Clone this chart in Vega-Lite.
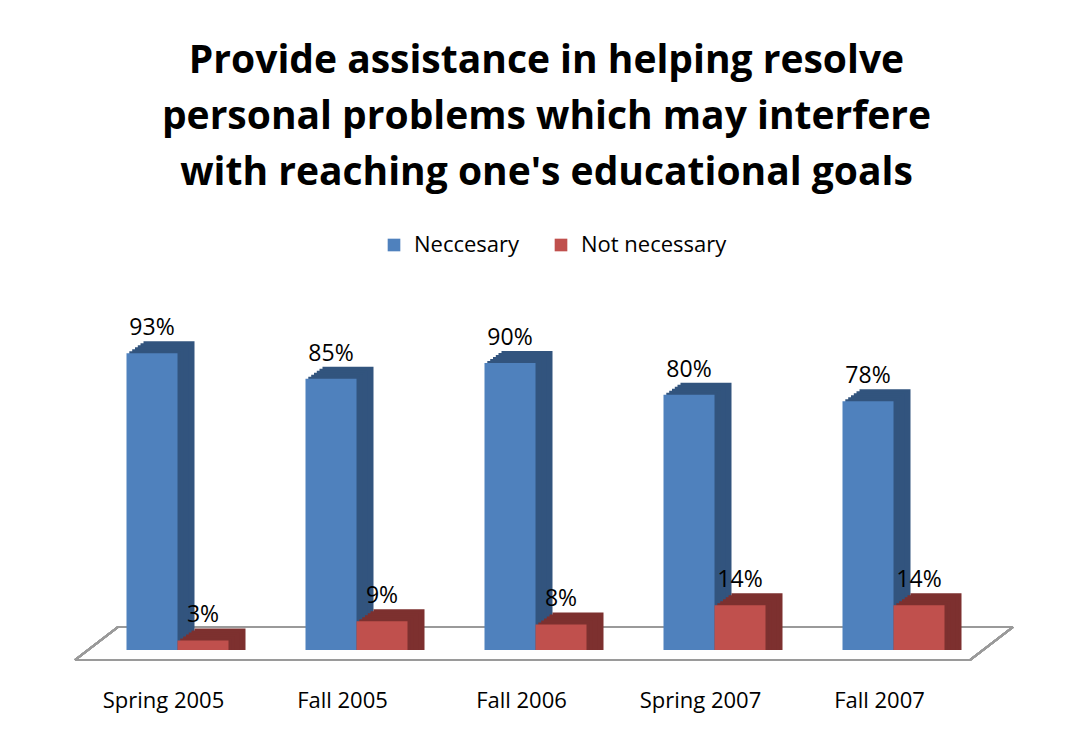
{
  "$schema": "https://vega.github.io/schema/vega-lite/v6.json",
  "autosize": "none",
  "width": 895,
  "height": 319,
  "padding": {"left": 88, "top": 331, "right": 90, "bottom": 94},
  "background": "white",
  "config": {"view": {"stroke": null}, "font": "Open Sans"},
  "title": {
    "text": ["Provide assistance in helping resolve", "personal problems which may interfere", "with reaching one's educational goals"],
    "font": "Open Sans",
    "fontSize": 39,
    "fontWeight": "bold",
    "color": "black",
    "lineHeight": 56,
    "anchor": "middle",
    "dx": 11,
    "offset": 41
  },
  "data": {
    "values": [
      {"period": "Spring 2005", "series": "Neccesary", "value": 0.93},
      {"period": "Spring 2005", "series": "Not necessary", "value": 0.03},
      {"period": "Fall 2005", "series": "Neccesary", "value": 0.85},
      {"period": "Fall 2005", "series": "Not necessary", "value": 0.09},
      {"period": "Fall 2006", "series": "Neccesary", "value": 0.90},
      {"period": "Fall 2006", "series": "Not necessary", "value": 0.08},
      {"period": "Spring 2007", "series": "Neccesary", "value": 0.80},
      {"period": "Spring 2007", "series": "Not necessary", "value": 0.14},
      {"period": "Fall 2007", "series": "Neccesary", "value": 0.78},
      {"period": "Fall 2007", "series": "Not necessary", "value": 0.14}
    ]
  },
  "encoding": {
    "x": {
      "field": "period", "type": "nominal",
      "scale": {"domain": ["Spring 2005", "Fall 2005", "Fall 2006", "Spring 2007", "Fall 2007"], "paddingInner": 0.43, "paddingOuter": 0.215},
      "axis": {
        "title": null, "ticks": false, "domain": false, "labelAngle": 0,
        "labelPadding": 40, "labelOffset": -14, "labelFontSize": 22,
        "labelColor": "black", "labelFont": "Open Sans"
      }
    },
    "y": {"field": "value", "type": "quantitative", "stack": null, "scale": {"domain": [0, 1]}, "axis": null}
  },
  "layer": [
    {"mark": {"type": "rule", "color": "#9a9a9a", "strokeWidth": 2, "xOffset": -51.5, "x2Offset": 25.5, "yOffset": 10},
     "encoding": {"x": {"datum": "Spring 2005", "type": "nominal", "bandPosition": 0}, "x2": {"datum": "Fall 2007", "bandPosition": 1}, "y": {"datum": 0, "type": "quantitative"}}},
    {"mark": {"type": "rule", "color": "#9a9a9a", "strokeWidth": 2, "xOffset": -8.5, "x2Offset": 68.5, "yOffset": -23},
     "encoding": {"x": {"datum": "Spring 2005", "type": "nominal", "bandPosition": 0}, "x2": {"datum": "Fall 2007", "bandPosition": 1}, "y": {"datum": 0, "type": "quantitative"}}},
    {"mark": {"type": "rule", "color": "#9a9a9a", "strokeWidth": 2, "xOffset": -51.5, "x2Offset": -8.5, "yOffset": 10, "y2Offset": -23},
     "encoding": {"x": {"datum": "Spring 2005", "type": "nominal", "bandPosition": 0}, "x2": {"datum": "Spring 2005", "bandPosition": 0}, "y": {"datum": 0, "type": "quantitative"}, "y2": {"datum": 0}}},
    {"mark": {"type": "rule", "color": "#9a9a9a", "strokeWidth": 2, "xOffset": 25.5, "x2Offset": 68.5, "yOffset": 10, "y2Offset": -23},
     "encoding": {"x": {"datum": "Fall 2007", "type": "nominal", "bandPosition": 1}, "x2": {"datum": "Fall 2007", "bandPosition": 1}, "y": {"datum": 0, "type": "quantitative"}, "y2": {"datum": 0}}},
    {"mark": {"type": "bar", "width": 51, "xOffset": {"expr": "(datum.series === 'Neccesary' ? -25.5 : 25.5) + 17"}, "yOffset": -12, "y2Offset": -12, "clip": false},
     "encoding": {"color": {"condition": {"test": "datum.series === 'Neccesary'", "value": "#32547e"}, "value": "#7d302f"}}},
    {"mark": {"type": "bar", "width": 51, "xOffset": {"expr": "(datum.series === 'Neccesary' ? -25.5 : 25.5) + 14"}, "yOffset": -10, "y2Offset": -10, "clip": false},
     "encoding": {"color": {"condition": {"test": "datum.series === 'Neccesary'", "value": "#32547e"}, "value": "#7d302f"}}},
    {"mark": {"type": "bar", "width": 51, "xOffset": {"expr": "(datum.series === 'Neccesary' ? -25.5 : 25.5) + 11.3"}, "yOffset": -8, "y2Offset": -8, "clip": false},
     "encoding": {"color": {"condition": {"test": "datum.series === 'Neccesary'", "value": "#32547e"}, "value": "#7d302f"}}},
    {"mark": {"type": "bar", "width": 51, "xOffset": {"expr": "(datum.series === 'Neccesary' ? -25.5 : 25.5) + 8.5"}, "yOffset": -6, "y2Offset": -6, "clip": false},
     "encoding": {"color": {"condition": {"test": "datum.series === 'Neccesary'", "value": "#32547e"}, "value": "#7d302f"}}},
    {"mark": {"type": "bar", "width": 51, "xOffset": {"expr": "(datum.series === 'Neccesary' ? -25.5 : 25.5) + 5.7"}, "yOffset": -4, "y2Offset": -4, "clip": false},
     "encoding": {"color": {"condition": {"test": "datum.series === 'Neccesary'", "value": "#32547e"}, "value": "#7d302f"}}},
    {"mark": {"type": "bar", "width": 51, "xOffset": {"expr": "(datum.series === 'Neccesary' ? -25.5 : 25.5) + 2.8"}, "yOffset": -2, "y2Offset": -2, "clip": false},
     "encoding": {"color": {"condition": {"test": "datum.series === 'Neccesary'", "value": "#32547e"}, "value": "#7d302f"}}},
    {"mark": {"type": "bar", "width": 51, "xOffset": {"expr": "datum.series === 'Neccesary' ? -25.5 : 25.5"}, "clip": false},
     "encoding": {"color": {
       "field": "series", "type": "nominal",
       "scale": {"domain": ["Neccesary", "Not necessary"], "range": ["#4f81bd", "#c0504d"]},
       "legend": {
         "title": null, "orient": "none", "direction": "horizontal", "legendX": 295, "legendY": -97,
         "symbolType": "square", "symbolSize": 160, "labelFontSize": 22, "labelFont": "Open Sans",
         "labelColor": "black", "columnPadding": 30, "labelOffset": 9, "symbolStrokeWidth": 0
       }
     }}},
    {"mark": {"type": "text", "baseline": "alphabetic", "dy": -18, "xOffset": {"expr": "datum.series === 'Neccesary' ? -25.5 : 25.5"}, "fontSize": 23, "color": "black", "font": "Open Sans"},
     "encoding": {"text": {"field": "value", "type": "quantitative", "format": ".0%"}, "detail": {"field": "series"}}}
  ]
}
